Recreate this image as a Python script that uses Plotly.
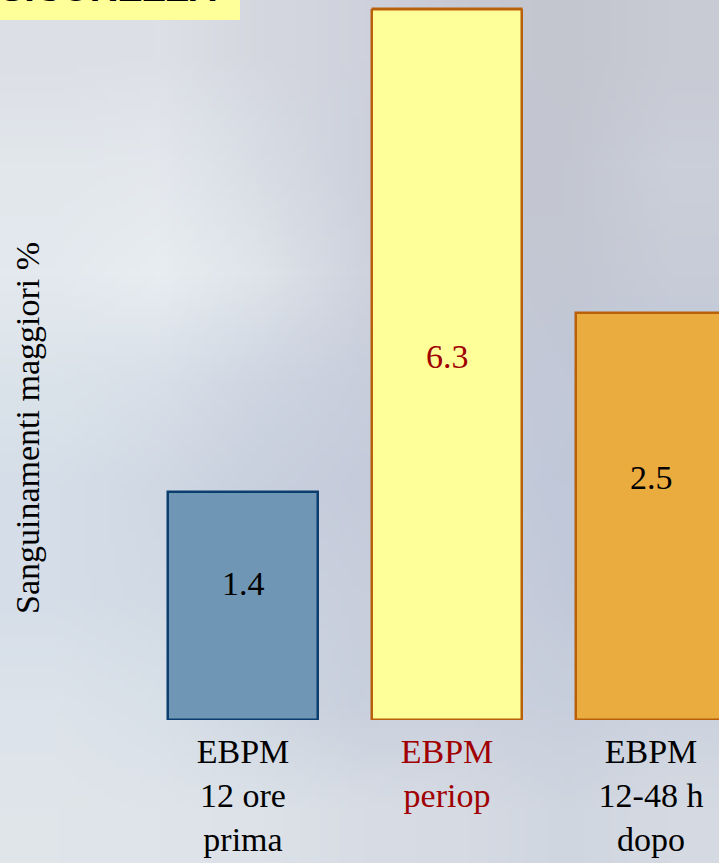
import base64
import struct
import zlib

import plotly.graph_objects as go

# ---- data -------------------------------------------------------------
categories = ["prima", "periop", "dopo"]
tick_labels = [
    "EBPM<br>12 ore<br>prima",
    "<span style='color:#a00000'>EBPM</span><br><span style='color:#a00000'>periop</span>",
    "EBPM<br>12-48 h<br>dopo",
]
bleeding_pct = [1.4, 6.3, 2.5]
value_text = ["1.4", "6.3", "2.5"]

# ---- styling ------------------------------------------------------------
W, H = 719, 863
fill_colors = ["#6f96b4", "#ffff99", "#eaab3f"]
edge_colors = ["#0b3d6e", "#b8600a", "#b8600a"]
value_colors = ["#000000", "#a00000", "#000000"]
label_heights = [0.84, 2.23, 1.49]   # vertical placement of the value labels
bar_width = 0.74
serif = "Liberation Serif, Times New Roman, serif"

# plot area in pixels
left_px, top_px, bottom_px = 141, 9, 720
px_per_cat = 204.0
px_per_unit = 163.0
x_range = [-0.5, -0.5 + (W - left_px) / px_per_cat]
y_range = [0, (bottom_px - top_px) / px_per_unit]

# soft cloudy backdrop: a tiny RGB grid stretched over the page
sky = [
    ["#dcdfe6", "#dde0e7", "#d5d7e0", "#cfd2dc", "#c6c8d2", "#c3c5cf", "#c8cad4"],
    ["#e2e7ec", "#e4e8ed", "#d8dde5", "#cdd1dc", "#c2c5d0", "#c4c7d1", "#cbcfd9"],
    ["#e3e9ee", "#e8edf1", "#dfe4ea", "#cfd3de", "#c5c9d5", "#c3c7d3", "#c8ccd8"],
    ["#dbe3ea", "#d8dfe8", "#cfd6e2", "#c8cedc", "#c5cad8", "#c2c8d8", "#c0c8da"],
    ["#d5dee8", "#d0d8e4", "#c8cfdd", "#c5cbda", "#c6ccda", "#c0c8d9", "#bfc7d9"],
    ["#d5dde8", "#d2dae5", "#ccd3e0", "#c8cedc", "#cacfdc", "#c2c9d9", "#c6cddb"],
    ["#dce3ea", "#d8e0e8", "#cfd7e2", "#c9d0dd", "#cbd1dd", "#c8cfdc", "#ccd2de"],
    ["#e0e5ea", "#dfe4ea", "#dce2e8", "#d8dde5", "#d5dae3", "#d0d6e0", "#d5dae2"],
]


def png_uri(rows):
    raw = b""
    for row in rows:
        raw += b"\x00" + b"".join(bytes.fromhex(c[1:]) for c in row)

    def chunk(tag, data):
        body = tag + data
        return struct.pack(">I", len(data)) + body + struct.pack(">I", zlib.crc32(body) & 0xFFFFFFFF)

    png = (b"\x89PNG\r\n\x1a\n"
           + chunk(b"IHDR", struct.pack(">IIBBBBB", len(rows[0]), len(rows), 8, 2, 0, 0, 0))
           + chunk(b"IDAT", zlib.compress(raw, 9))
           + chunk(b"IEND", b""))
    return "data:image/png;base64," + base64.b64encode(png).decode()


fig = go.Figure()
fig.add_trace(go.Bar(
    x=categories,
    y=bleeding_pct,
    width=bar_width,
    marker=dict(color=fill_colors, line=dict(color=edge_colors, width=2.5)),
    hoverinfo="skip",
))

# value labels inside the bars
for cat, txt, col, yh in zip(categories, value_text, value_colors, label_heights):
    fig.add_annotation(x=cat, y=yh, xref="x", yref="y", text=txt, showarrow=False,
                       font=dict(family=serif, size=34, color=col))

# top edge of the tallest bar, which runs past the top of the axis
tallest = bleeding_pct.index(max(bleeding_pct))
fig.add_shape(type="line", xref="x", yref="y domain",
              x0=tallest - bar_width / 2, x1=tallest + bar_width / 2, y0=1, y1=1,
              line=dict(color=edge_colors[tallest], width=3))

# title box cut at the top of the page
fig.add_shape(type="rect", xref="paper", yref="paper",
              x0=0, x1=240 / W, y0=1 - 20 / H, y1=1.05,
              fillcolor="#ffff99", line=dict(width=0), layer="below")
fig.add_annotation(xref="paper", yref="paper", x=-3 / W, y=1 - 11 / H,
                   xanchor="left", yanchor="bottom", text="<b>SICUREZZA</b>",
                   showarrow=False,
                   font=dict(family="Liberation Sans, Arial, sans-serif", size=38, color="#000000"))

# y axis title
fig.add_annotation(xref="paper", yref="paper", x=27 / W, y=1 - 428 / H,
                   xanchor="center", yanchor="middle",
                   text="Sanguinamenti maggiori %", textangle=-90, showarrow=False,
                   font=dict(family=serif, size=34, color="#000000"))

fig.update_layout(
    width=W, height=H,
    margin=dict(l=0, r=0, t=0, b=0),
    paper_bgcolor="#d0d5df",
    plot_bgcolor="rgba(0,0,0,0)",
    showlegend=False,
    bargap=0,
    images=[dict(source=png_uri(sky), xref="paper", yref="paper", x=0, y=1,
                 sizex=1, sizey=1, xanchor="left", yanchor="top",
                 sizing="stretch", layer="below")],
    xaxis=dict(
        domain=[left_px / W, 1], range=x_range,
        tickmode="array", tickvals=categories, ticktext=tick_labels,
        tickfont=dict(family=serif, size=34, color="#000000"),
        showgrid=False, zeroline=False, showline=False, ticks="",
        ticklabelstandoff=8, fixedrange=True,
    ),
    yaxis=dict(
        domain=[1 - bottom_px / H, 1 - top_px / H], range=y_range,
        showgrid=False, zeroline=False, showline=False, showticklabels=False,
        ticks="", fixedrange=True,
    ),
)

fig.write_html("out.html")
